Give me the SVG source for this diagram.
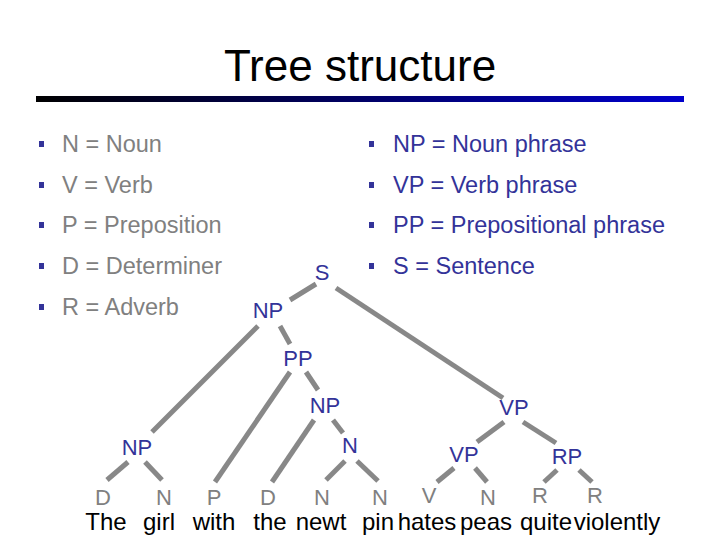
<svg xmlns="http://www.w3.org/2000/svg" width="720" height="540" viewBox="0 0 720 540">
<style>
text{font-family:"Liberation Sans",Arial,sans-serif;font-size:22px}
.g{fill:#808080;font-size:23.5px}.b{fill:#333399;font-size:23.5px}
.n{fill:#333399;text-anchor:middle}
.l{fill:#808080;text-anchor:middle}
.w{fill:#000;text-anchor:middle;font-size:24px}
.e{stroke:#888;stroke-width:5;fill:none}
.bul{fill:#333399}
</style>
<defs><linearGradient id="bar" x1="0" x2="1"><stop offset="0" stop-color="#000"/><stop offset="1" stop-color="#0000cc"/></linearGradient></defs>
<rect width="720" height="540" fill="#fff"/>
<text x="360" y="81" text-anchor="middle" style="font-size:44px">Tree structure</text>
<rect x="36" y="96" width="648" height="6" fill="url(#bar)"/>
<g id="legend">
<rect class="bul" x="39" y="141" width="5" height="6"/><text class="g" x="62" y="152">N = Noun</text>
<rect class="bul" x="39" y="182" width="5" height="6"/><text class="g" x="62" y="193">V = Verb</text>
<rect class="bul" x="39" y="222" width="5" height="6"/><text class="g" x="62" y="233">P = Preposition</text>
<rect class="bul" x="39" y="263" width="5" height="6"/><text class="g" x="62" y="274">D = Determiner</text>
<rect class="bul" x="39" y="304" width="5" height="6"/><text class="g" x="62" y="315">R = Adverb</text>
<rect class="bul" x="369" y="141" width="5" height="6"/><text class="b" x="393" y="152">NP = Noun phrase</text>
<rect class="bul" x="369" y="182" width="5" height="6"/><text class="b" x="393" y="193">VP = Verb phrase</text>
<rect class="bul" x="369" y="222" width="5" height="6"/><text class="b" x="393" y="233">PP = Prepositional phrase</text>
<rect class="bul" x="369" y="263" width="5" height="6"/><text class="b" x="393" y="274">S = Sentence</text>
</g>
<g id="edges" class="e">
<line x1="316" y1="284" x2="290" y2="300"/>
<line x1="336" y1="288" x2="503" y2="398"/>
<line x1="258" y1="326" x2="152" y2="432"/>
<line x1="280" y1="326" x2="290" y2="344"/>
<line x1="290" y1="372" x2="215" y2="482"/>
<line x1="306" y1="372" x2="318" y2="390"/>
<line x1="314" y1="420" x2="272" y2="482"/>
<line x1="333" y1="420" x2="343" y2="433"/>
<line x1="345" y1="461" x2="326" y2="480"/>
<line x1="357" y1="461" x2="378" y2="481"/>
<line x1="128" y1="462" x2="107" y2="480"/>
<line x1="145" y1="462" x2="162" y2="480"/>
<line x1="504" y1="422" x2="477" y2="442"/>
<line x1="523" y1="422" x2="556" y2="443"/>
<line x1="454" y1="468" x2="437" y2="482"/>
<line x1="475" y1="468" x2="487" y2="482"/>
<line x1="557" y1="470" x2="544" y2="482"/>
<line x1="579" y1="470" x2="592" y2="482"/>
</g>
<g id="S"><text class="n" x="322" y="280">S</text></g>
<g id="NP1"><text class="n" x="268" y="318">NP</text></g>
<g id="PP"><text class="n" x="298" y="366">PP</text></g>
<g id="NP2"><text class="n" x="325" y="413">NP</text></g>
<g id="VP1"><text class="n" x="514" y="415">VP</text></g>
<g id="NP3"><text class="n" x="137" y="455">NP</text></g>
<g id="N1"><text class="n" x="350" y="453">N</text></g>
<g id="VP2"><text class="n" x="464" y="462">VP</text></g>
<g id="RP"><text class="n" x="567" y="464">RP</text></g>
<g id="leaves">
<text class="l" x="103" y="505">D</text><text class="l" x="164" y="505">N</text><text class="l" x="214" y="505">P</text><text class="l" x="268" y="505">D</text><text class="l" x="322" y="505">N</text><text class="l" x="380" y="505">N</text><text class="l" x="429" y="503">V</text><text class="l" x="488" y="505">N</text><text class="l" x="540" y="503">R</text><text class="l" x="595" y="503">R</text>
<text class="w" x="106" y="530">The</text><text class="w" x="159" y="530">girl</text><text class="w" x="214" y="530">with</text><text class="w" x="270" y="530">the</text><text class="w" x="321" y="530">newt</text><text class="w" x="378" y="530">pin</text><text class="w" x="427" y="530">hates</text><text class="w" x="486" y="530">peas</text><text class="w" x="546" y="530">quite</text><text class="w" x="617" y="530">violently</text>
</g>
</svg>
